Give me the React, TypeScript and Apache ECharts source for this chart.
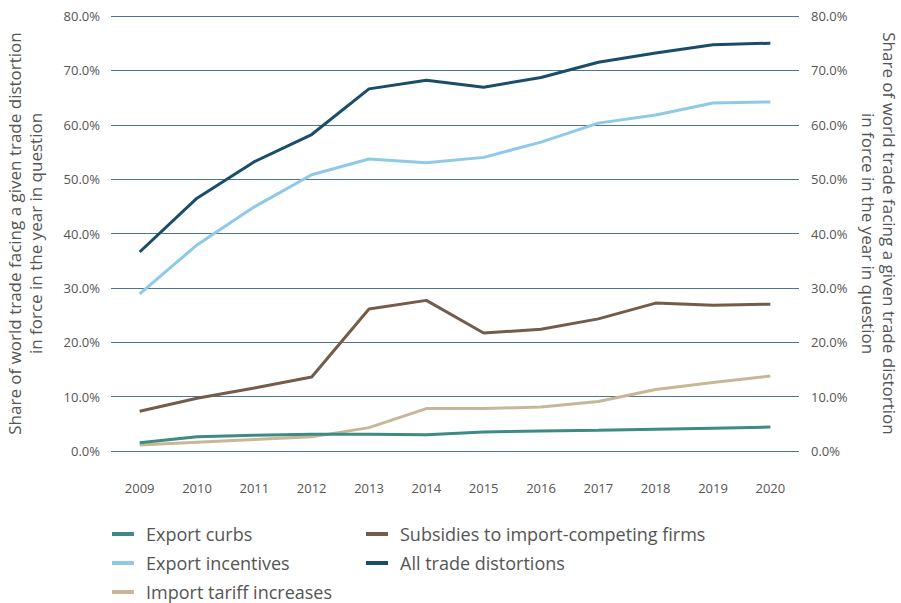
import React, { useEffect, useRef } from "react";
import * as echarts from "echarts";

const years = ["2009", "2010", "2011", "2012", "2013", "2014", "2015", "2016", "2017", "2018", "2019", "2020"];
const exportCurbs = [1.5, 2.6, 2.9, 3.1, 3.1, 3.0, 3.5, 3.7, 3.8, 4.0, 4.2, 4.4];
const exportIncentives = [28.9, 37.9, 44.9, 50.8, 53.7, 53.0, 54.0, 56.8, 60.3, 61.8, 64.0, 64.2];
const importTariff = [1.1, 1.6, 2.1, 2.6, 4.3, 7.8, 7.8, 8.1, 9.1, 11.3, 12.6, 13.8];
const subsidies = [7.3, 9.7, 11.6, 13.6, 26.1, 27.7, 21.7, 22.4, 24.3, 27.2, 26.8, 27.0];
const allTrade = [36.6, 46.5, 53.2, 58.2, 66.6, 68.2, 66.9, 68.7, 71.5, 73.2, 74.7, 75.0];

const names = ["Export curbs", "Export incentives", "Import tariff increases", "Subsidies to import-competing firms", "All trade distortions"];
const colors = ["#3e8a84", "#8ecae8", "#c7b797", "#735c49", "#1a4d69"];
const seriesData = [exportCurbs, exportIncentives, importTariff, subsidies, allTrade];

const axisTitle = "Share of world trade facing a given trade distortion\nin force in the year in question";

export default function App() {
  const ref = useRef<HTMLDivElement>(null);
  useEffect(() => {
    document.body.style.margin = "0";
    const chart = echarts.init(ref.current!, null, { renderer: "svg" });
    const font = "'Open Sans', sans-serif";
    const yAxisBase = {
      type: "value",
      min: 0,
      max: 80,
      interval: 10,
      nameLocation: "middle",
      nameTextStyle: { fontFamily: font, fontSize: 17, color: "#555", lineHeight: 21 },
      axisLine: { show: false },
      axisTick: { show: false },
      axisLabel: { fontFamily: font, fontSize: 13, color: "#555", formatter: (v: number) => v.toFixed(1) + "%" },
    };
    const legendBase = {
      top: 525,
      height: 120,
      orient: "vertical",
      padding: 0,
      itemGap: 11,
      itemWidth: 22,
      itemHeight: 4,
      icon: "rect",
      textStyle: { fontFamily: font, fontSize: 18, color: "#555", lineHeight: 18, padding: [0, 0, 0, 7] },
    };
    chart.setOption({
      animation: false,
      textStyle: { fontFamily: font },
      grid: { left: 111, right: 102, top: 16, bottom: 152, outerBoundsMode: "none", containLabel: false },
      legend: [
        { ...legendBase, left: 112, data: names.slice(0, 3) },
        { ...legendBase, left: 366, data: names.slice(3) },
      ],
      xAxis: {
        type: "category",
        data: years,
        boundaryGap: true,
        axisLine: { show: false },
        axisTick: { show: false },
        axisLabel: { fontFamily: font, fontSize: 13, color: "#555", margin: 30 },
      },
      yAxis: [
        {
          ...yAxisBase,
          position: "left",
          name: axisTitle,
          nameGap: 65,
          axisLabel: { ...yAxisBase.axisLabel, margin: 11 },
          splitLine: { show: true, lineStyle: { color: "#4a7691", width: 1 } },
        },
        {
          ...yAxisBase,
          position: "right",
          name: axisTitle,
          nameGap: 50,
          nameRotate: -90,
          axisLabel: { ...yAxisBase.axisLabel, margin: 12 },
          splitLine: { show: false },
        },
      ],
      series: names.map((n, i) => ({
        name: n,
        type: "line",
        data: seriesData[i],
        symbol: "none",
        lineStyle: { width: 3, color: colors[i] },
        itemStyle: { color: colors[i] },
        z: i === 0 ? 6 : 2 + i,
      })),
    });
    return () => chart.dispose();
  }, []);
  return <div ref={ref} style={{ width: 901, height: 603 }} />;
}
